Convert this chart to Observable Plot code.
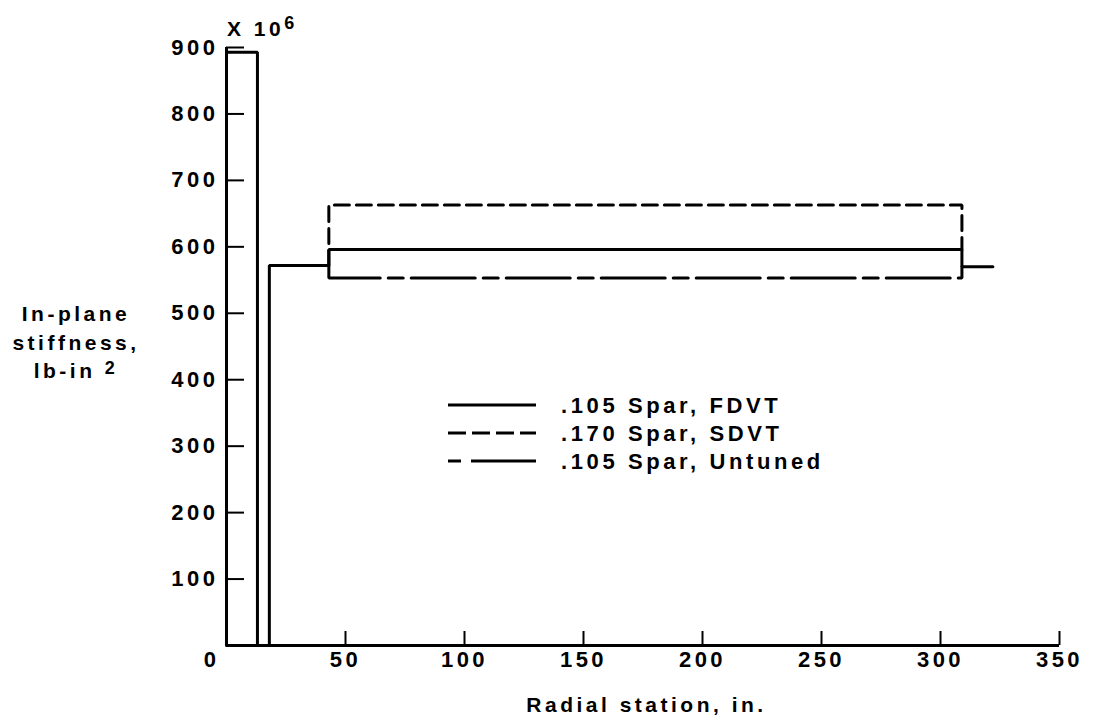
<!DOCTYPE html>
<html><head><meta charset="utf-8">
<script src="https://cdn.jsdelivr.net/npm/d3@7"></script>
<script src="https://cdn.jsdelivr.net/npm/@observablehq/plot@0.6"></script>
<style>
body{margin:0;background:#fff;}
#wrap{position:relative;width:1093px;height:721px;font-family:"Liberation Sans",Arial,sans-serif;font-weight:bold;color:#000;}
.ov{position:absolute;white-space:nowrap;letter-spacing:3.5px;}
</style></head><body><div id="wrap"></div>
<script>
// Tick labels
const xTicks = [50, 100, 150, 200, 250, 300, 350];
const yTicks = [100, 200, 300, 400, 500, 600, 700, 800, 900];

// Series (radial station in., in-plane stiffness x10^6 lb-in^2)
const fdvtStation   = [0, 0, 13, 13, 18, 18, 43, 43, 309, 309, 322];
const fdvtStiffness = [0, 893, 893, 0, 0, 572, 572, 596, 596, 570, 570];

const sdvtStation   = [43, 43, 309, 309];
const sdvtStiffness = [572, 663, 663, 596];

const untunedStation   = [43, 43, 309, 309];
const untunedStiffness = [572, 553, 553, 570];

const seriesNames = [".105 Spar, FDVT", ".170 Spar, SDVT", ".105 Spar, Untuned"];

const toRows = (xs, ys) => xs.map((x, i) => ({station: x, stiffness: ys[i]}));
const fdvt = toRows(fdvtStation, fdvtStiffness);
const sdvt = toRows(sdvtStation, sdvtStiffness);
const untuned = toRows(untunedStation, untunedStiffness);

const chart = Plot.plot({
  width: 1093,
  height: 721,
  marginLeft: 226,
  marginRight: 34,
  marginTop: 47,
  marginBottom: 76,
  x: {domain: [0, 350]},
  y: {domain: [0, 900]},
  style: {fontFamily: '"Liberation Sans", Arial, sans-serif', fontSize: "22px", fontWeight: "bold", letterSpacing: "3.5px", color: "#000", background: "#fff", overflow: "visible"},
  marks: [
    Plot.axisY({ticks: yTicks, tickSize: -18, tickPadding: 26, strokeWidth: 2, label: null, tickFormat: d => String(d)}),
    Plot.axisX({ticks: xTicks, tickSize: -14, tickPadding: 20, strokeWidth: 2, label: null, tickFormat: d => String(d)}),
    Plot.axisX({ticks: [0], tickSize: 0, tickPadding: 6, dx: -15, label: null, tickFormat: d => String(d)}),
    Plot.ruleX([0], {strokeWidth: 3}),
    Plot.ruleY([0], {strokeWidth: 3}),
    Plot.line(sdvt, {x: "station", y: "stiffness", stroke: "#000", strokeWidth: 3, strokeDasharray: "15,7", strokeLinejoin: "miter"}),
    Plot.line(untuned, {x: "station", y: "stiffness", stroke: "#000", strokeWidth: 3, strokeDasharray: "64,8,15,8", strokeLinejoin: "miter"}),
    Plot.line(fdvt, {x: "station", y: "stiffness", stroke: "#000", strokeWidth: 3, strokeLinejoin: "miter"})
  ]
});

const wrap = document.getElementById("wrap");
wrap.appendChild(chart);

// Multiplier
const mult = document.createElement("div");
mult.className = "ov";
mult.style.cssText = "left:227px;top:17px;font-size:21px;line-height:24px;";
mult.innerHTML = 'X 10<span style="font-size:18px;position:relative;top:-7px;">6</span>';
wrap.appendChild(mult);

// Y title
const ytitle = document.createElement("div");
ytitle.className = "ov";
ytitle.style.cssText = "left:0;top:300px;width:152px;text-align:center;font-size:21px;line-height:28.5px;";
ytitle.innerHTML = 'In-plane<br>stiffness,<br>lb-in <span style="font-size:18px;position:relative;top:-4px;">2</span>';
wrap.appendChild(ytitle);

// X title
const xtitle = document.createElement("div");
xtitle.className = "ov";
xtitle.style.cssText = "left:0;top:692px;width:1293px;text-align:center;font-size:21px;line-height:26px;";
xtitle.textContent = "Radial station, in.";
wrap.appendChild(xtitle);

// Legend
const dashes = [null, "18,6", "13,10,70"];
const ns = "http://www.w3.org/2000/svg";
const leg = document.createElementNS(ns, "svg");
leg.setAttribute("width", 420);
leg.setAttribute("height", 100);
leg.style.cssText = "position:absolute;left:440px;top:385px;overflow:visible;";
seriesNames.forEach((name, i) => {
  const y = 20 + i * 28;
  const ln = document.createElementNS(ns, "line");
  ln.setAttribute("x1", 8); ln.setAttribute("x2", 96);
  ln.setAttribute("y1", y); ln.setAttribute("y2", y);
  ln.setAttribute("stroke", "#000"); ln.setAttribute("stroke-width", 3);
  if (dashes[i]) ln.setAttribute("stroke-dasharray", dashes[i]);
  leg.appendChild(ln);
  const t = document.createElementNS(ns, "text");
  t.setAttribute("x", 121); t.setAttribute("y", y);
  t.setAttribute("dominant-baseline", "central");
  t.setAttribute("font-family", '"Liberation Sans", Arial, sans-serif');
  t.setAttribute("font-weight", "bold");
  t.setAttribute("font-size", 22);
  t.setAttribute("letter-spacing", "3.6px");
  t.textContent = name;
  leg.appendChild(t);
});
wrap.appendChild(leg);
</script>
</body></html>
